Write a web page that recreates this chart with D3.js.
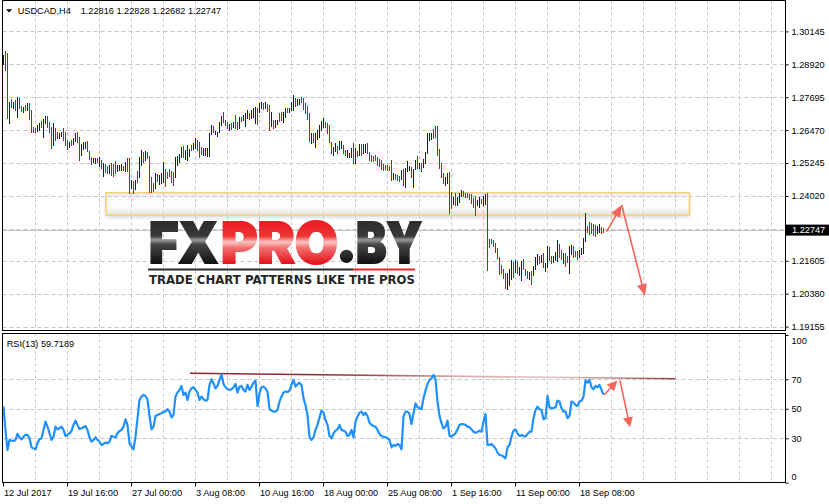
<!DOCTYPE html>
<html><head><meta charset="utf-8">
<script src="https://cdn.jsdelivr.net/npm/d3@7"></script>
<style>html,body{margin:0;padding:0;background:#fff;overflow:hidden}svg{display:block}</style>
</head><body>
<svg id="c" width="829" height="504"></svg>
<script>
// ---------------- DATA ----------------
const symbolTitle = "USDCAD,H4";
const ohlcTitle = "1.22816 1.22828 1.22682 1.22747";
const rsiTitle = "RSI(13) 59.7189";
const lastPrice = 1.22747;

const highs = [
1.2927,1.2941,1.2933,1.2750,1.2763,1.2750,1.2759,1.2769,1.2768,1.2737,
1.2734,1.2740,1.2747,1.2747,1.2722,1.2660,1.2656,1.2666,1.2672,1.2681,
1.2688,1.2701,1.2701,1.2678,1.2660,1.2672,1.2656,1.2639,1.2635,1.2639,
1.2654,1.2639,1.2610,1.2604,1.2610,1.2619,1.2635,1.2639,1.2622,1.2594,
1.2602,1.2604,1.2607,1.2569,1.2548,1.2545,1.2542,1.2545,1.2548,1.2536,
1.2526,1.2520,1.2515,1.2517,1.2524,1.2520,1.2532,1.2517,1.2517,1.2520,
1.2515,1.2527,1.2545,1.2545,1.2461,1.2458,1.2461,1.2495,1.2548,1.2573,
1.2566,1.2569,1.2566,1.2551,1.2474,1.2449,1.2486,1.2483,1.2480,1.2486,
1.2527,1.2502,1.2490,1.2502,1.2495,1.2492,1.2548,1.2551,1.2557,1.2585,
1.2588,1.2573,1.2592,1.2577,1.2592,1.2598,1.2619,1.2610,1.2604,1.2585,
1.2582,1.2579,1.2579,1.2635,1.2666,1.2663,1.2644,1.2639,1.2678,1.2701,
1.2716,1.2685,1.2678,1.2669,1.2672,1.2678,1.2703,1.2678,1.2697,1.2697,
1.2703,1.2710,1.2722,1.2710,1.2722,1.2730,1.2734,1.2730,1.2747,1.2750,
1.2747,1.2753,1.2743,1.2740,1.2716,1.2685,1.2685,1.2685,1.2710,1.2713,
1.2716,1.2728,1.2730,1.2730,1.2753,1.2778,1.2768,1.2763,1.2763,1.2770,
1.2765,1.2749,1.2737,1.2712,1.2635,1.2635,1.2637,1.2647,1.2666,1.2682,
1.2691,1.2678,1.2672,1.2666,1.2604,1.2585,1.2598,1.2588,1.2608,1.2608,
1.2592,1.2573,1.2573,1.2563,1.2579,1.2598,1.2579,1.2570,1.2595,1.2595,
1.2595,1.2595,1.2598,1.2567,1.2554,1.2551,1.2554,1.2548,1.2538,1.2536,
1.2521,1.2517,1.2517,1.2513,1.2536,1.2489,1.2484,1.2480,1.2476,1.2498,
1.2501,1.2505,1.2533,1.2513,1.2510,1.2501,1.2536,1.2551,1.2524,1.2526,
1.2538,1.2567,1.2637,1.2637,1.2635,1.2650,1.2662,1.2662,1.2576,1.2526,
1.2486,1.2473,1.2486,1.2491,1.2418,1.2399,1.2414,1.2399,1.2412,1.2424,
1.2421,1.2414,1.2412,1.2409,1.2409,1.2393,1.2402,1.2387,1.2397,1.2389,
1.2402,1.2409,1.2414,1.2240,1.2240,1.2238,1.2225,1.2207,1.2176,1.2145,
1.2129,1.2116,1.2114,1.2129,1.2163,1.2157,1.2163,1.2161,1.2136,1.2161,
1.2166,1.2129,1.2124,1.2120,1.2124,1.2141,1.2176,1.2186,1.2178,1.2182,
1.2188,1.2153,1.2216,1.2213,1.2178,1.2178,1.2194,1.2238,1.2223,1.2201,
1.2191,1.2188,1.2178,1.2216,1.2219,1.2216,1.2198,1.2198,1.2201,1.2207,
1.2244,1.2337,1.2290,1.2306,1.2302,1.2297,1.2294,1.2290,1.2297,1.2288,
1.22828];

const lows = [
1.2892,1.2871,1.2692,1.2675,1.2734,1.2730,1.2722,1.2697,1.2728,1.2718,
1.2716,1.2721,1.2722,1.2688,1.2641,1.2639,1.2639,1.2644,1.2647,1.2660,
1.2622,1.2672,1.2660,1.2641,1.2579,1.2592,1.2610,1.2619,1.2619,1.2626,
1.2610,1.2592,1.2577,1.2585,1.2592,1.2594,1.2607,1.2604,1.2536,1.2554,
1.2577,1.2579,1.2569,1.2540,1.2520,1.2527,1.2524,1.2527,1.2515,1.2507,
1.2477,1.2492,1.2486,1.2486,1.2480,1.2477,1.2486,1.2495,1.2498,1.2498,
1.2498,1.2495,1.2495,1.2412,1.2430,1.2412,1.2428,1.2455,1.2474,1.2517,
1.2529,1.2536,1.2542,1.2418,1.2416,1.2421,1.2430,1.2458,1.2445,1.2449,
1.2455,1.2440,1.2470,1.2477,1.2453,1.2443,1.2474,1.2517,1.2529,1.2548,
1.2548,1.2540,1.2536,1.2551,1.2573,1.2577,1.2579,1.2573,1.2548,1.2557,
1.2554,1.2554,1.2551,1.2551,1.2632,1.2639,1.2632,1.2626,1.2641,1.2666,
1.2676,1.2666,1.2656,1.2647,1.2651,1.2660,1.2654,1.2651,1.2656,1.2681,
1.2685,1.2663,1.2691,1.2688,1.2691,1.2697,1.2672,1.2669,1.2716,1.2730,
1.2726,1.2728,1.2718,1.2647,1.2663,1.2656,1.2660,1.2669,1.2681,1.2685,
1.2678,1.2697,1.2716,1.2713,1.2722,1.2722,1.2738,1.2740,1.2743,1.2750,
1.2727,1.2710,1.2687,1.2606,1.2600,1.2604,1.2585,1.2613,1.2622,1.2647,
1.2660,1.2660,1.2637,1.2604,1.2561,1.2554,1.2570,1.2563,1.2576,1.2579,
1.2561,1.2554,1.2548,1.2546,1.2546,1.2524,1.2524,1.2551,1.2554,1.2554,
1.2561,1.2567,1.2561,1.2536,1.2533,1.2533,1.2536,1.2517,1.2513,1.2501,
1.2498,1.2501,1.2498,1.2498,1.2461,1.2464,1.2464,1.2461,1.2459,1.2464,
1.2443,1.2436,1.2496,1.2498,1.2471,1.2436,1.2501,1.2505,1.2505,1.2496,
1.2511,1.2524,1.2561,1.2610,1.2613,1.2617,1.2620,1.2554,1.2505,1.2471,
1.2451,1.2443,1.2451,1.2337,1.2356,1.2372,1.2369,1.2369,1.2381,1.2402,
1.2402,1.2399,1.2397,1.2389,1.2374,1.2362,1.2331,1.2369,1.2359,1.2374,
1.2369,1.2372,1.2126,1.2213,1.2225,1.2216,1.2195,1.2170,1.2111,1.2114,
1.2095,1.2058,1.2054,1.2070,1.2092,1.2101,1.2120,1.2116,1.2107,1.2089,
1.2129,1.2107,1.2095,1.2092,1.2074,1.2107,1.2129,1.2148,1.2153,1.2157,
1.2136,1.2124,1.2138,1.2163,1.2153,1.2157,1.2163,1.2161,1.2174,1.2166,
1.2153,1.2141,1.2157,1.2114,1.2186,1.2174,1.2178,1.2166,1.2176,1.2186,
1.2188,1.2235,1.2269,1.2260,1.2265,1.2257,1.2253,1.2263,1.2269,1.2265,
1.22682];

// u = bullish bar, d = bearish bar, k = unchanged
const barDirections = (
"uddudududd"+"ududddduud"+"uudddudduu"+"ddduduuddu"+"uuddduudud"+
"udduddduuu"+"duddududuu"+"dudddduduu"+"uddddduuuu"+"duuuduuddd"+
"uuuuuduuuu"+"dddududdud"+"uuuduuuduu"+"dudduduudd"+"kuduuuduud"+
"dddduduuuu"+"udddduuduu"+"dduuududud"+"uudddddddd"+"dddddudddu"+
"duuuduudud"+"uuuuuddddd"+"duudduduuu"+"ddddddduud"+"uudddddddd"+
"dduuududuu"+"ddduduuudu"+"duudduuudd"+"udduuddduu"+"uuddddduud"+"d").split("");

const rsiValues = [
51.5,35,22,28.9,28.4,28.2,28.9,33,30.7,29.3,
31.1,32.3,32.3,30,23.9,23.2,22.5,26.6,29.3,30,
35.7,41.3,37.9,33.4,28.9,31.1,37.9,36.1,36.8,37.9,
35.7,31.6,32.3,33.4,35,39.1,42,39.1,36.3,36.8,
37.5,38.4,35.7,30.7,27.7,28.9,30.7,28.9,27.7,25.5,
26.2,27.1,26.6,27.7,31.6,31.1,30.7,33.4,35,35.7,
37.9,42.9,39.1,26.6,24.4,22.5,31.1,43.6,56,58.3,
59.4,58.7,56.5,45.1,36.1,37.9,45.1,45.8,46.5,47,
48.1,48.1,49.7,48.1,44.2,45.8,58.3,61,62.8,65.5,
59.4,61,56,61.7,63.9,64.6,62.8,61,56,58.3,
56.5,55.5,56,66.2,70,67.3,63.9,65.5,69.6,73.4,
66.8,64.6,63.2,62.8,63.2,64.6,66.8,61,65,65.5,
62.8,61.7,66.2,62.8,65,67.7,69.1,51.9,60.5,64.6,
65,63.7,61.7,49.7,48.8,48.1,48.1,49.2,54.9,58.3,
61,61.7,61.4,62.3,66.2,69.6,65,66.6,67.7,66.2,
57.1,52.6,45.8,30.7,28.9,30.7,35.7,39.1,44.2,48.8,
47.4,42.4,39.1,31.6,30,33.4,35.2,36.1,39.1,35.7,
35.2,34.5,31.6,32.3,35.7,30.7,41.3,44.7,47.4,48.1,
45.8,47.4,45.1,40.6,39.1,38.4,37.9,35.7,33,31.6,
31.1,30.7,30,28.9,23.9,25.5,24.8,26.2,25.5,22.5,
44.7,48.1,48.1,46.5,39.7,47,53.7,51,50.4,49.7,
57.1,62.3,66.8,69.6,70.7,72.9,70,54.9,45.1,40.2,
36.8,37.9,42,31.6,31.1,32.3,33.4,36.1,39.1,39.7,
39.5,39.1,37.9,37.5,36.1,34.5,33.8,34.3,35.2,34.5,
41.3,46.5,25.5,25.5,26.2,24.8,23.2,20.3,18.7,18.5,
17.6,16.4,23.9,25.5,31.1,35.2,36.1,33.4,31.6,32.3,
31.6,31.1,33,34.5,34.5,43.6,49.2,51.5,49.7,49.2,
42.9,43.6,58.7,51,50.4,50.4,51,55.5,54.9,50.4,
48.1,48.1,43.6,45.1,54.9,54.2,52.6,51.9,54.9,55.5,
58.3,69.1,67.7,69.6,64.6,63.2,65.5,64.6,66.2,62.8,
59.7189];

const dateLabels = ["12 Jul 2017","19 Jul 16:00","27 Jul 00:00","3 Aug 08:00","10 Aug 16:00",
  "18 Aug 00:00","25 Aug 08:00","1 Sep 16:00","11 Sep 00:00","18 Sep 08:00"];
const dateLabelBars = [0,32,64,96,128,160,192,224,256,288];
const priceLabels = [1.30145,1.28920,1.27695,1.26470,1.25245,1.24020,1.21605,1.20380,1.19155];
const priceGrid = [1.30145,1.28920,1.27695,1.26470,1.25245,1.24020,1.22795,1.21605,1.20380,1.19155];
const rsiLevels = [70,50,30];
const rsiLabels = [100,70,50,30,0];

// annotations (bar index, value)
const zoneBars = [51.5, 343.2];
const zonePrices = [1.2414, 1.2331];
const priceArrows = [[[301.85,1.2269],[309.35,1.2368]], [[309.35,1.2368],[321,1.2029]]];
const rsiArrows = [[[300.5,59.4],[307.15,69.1]], [[308.5,69.1],[313.5,37.5]]];
const rsiTrend = [[93.5,74.1],[336.15,70.4]];

// ---------------- LAYOUT ----------------
const FONT = "'Liberation Sans', Arial, sans-serif";
const FS = 9.2;
const P = {left:2.5, right:785.5, top:0.5, bottom:330.5, rTop:333.5, rBottom:482.5};
const x = d3.scaleLinear().domain([0, 391.25]).range([3, 785.5]);
const y = d3.scaleLinear().domain([1.19155, 1.30145]).range([326.6, 31.4]);
const r = d3.scaleLinear().domain([0, 100]).range([482.6, 335]);

const svg = d3.select("#c");
const defs = svg.append("defs");
function grad(id, stops, x1, y1, x2, y2) {
  const g = defs.append("linearGradient").attr("id", id).attr("gradientUnits", "userSpaceOnUse")
    .attr("x1", x1).attr("y1", y1).attr("x2", x2).attr("y2", y2);
  stops.forEach(s => g.append("stop").attr("offset", s[0]).attr("stop-color", s[1]));
}
svg.append("rect").attr("width", 829).attr("height", 504).attr("fill", "#fff");

defs.append("clipPath").attr("id", "cm").append("rect")
  .attr("x", P.left).attr("y", P.top).attr("width", P.right - P.left).attr("height", P.bottom - P.top);
defs.append("clipPath").attr("id", "cr").append("rect")
  .attr("x", P.left).attr("y", P.rTop).attr("width", P.right - P.left).attr("height", P.rBottom - P.rTop);

// zone
const zy0 = y(zonePrices[0]), zy1 = y(zonePrices[1]);
grad("zoneFill", [[0, "#ebebeb"], [0.25, "#f9f9f9"], [0.6, "#ffffff"], [1, "#e4e4e4"]], 0, zy0, 0, zy1);
const f = defs.append("filter").attr("id", "sh").attr("x", "-5%").attr("y", "-50%").attr("width", "110%").attr("height", "200%");
f.append("feDropShadow").attr("dx", 0).attr("dy", 2).attr("stdDeviation", 2).attr("flood-color", "#000").attr("flood-opacity", 0.18);

const main = svg.append("g").attr("clip-path", "url(#cm)");
main.append("rect").attr("x", x(zoneBars[0])).attr("y", zy0)
  .attr("width", x(zoneBars[1]) - x(zoneBars[0])).attr("height", zy1 - zy0)
  .attr("fill", "url(#zoneFill)").attr("filter", "url(#sh)");

// grid
const gridColor = "#c6c6c6";
const vBars = d3.range(16, 392, 16);
main.selectAll(".vg").data(vBars).join("line")
  .attr("x1", d => Math.round(x(d)) + 0.5).attr("x2", d => Math.round(x(d)) + 0.5)
  .attr("y1", P.top).attr("y2", P.bottom).attr("stroke", gridColor).attr("stroke-dasharray", "3,3");
main.selectAll(".hg").data(priceGrid).join("line")
  .attr("x1", P.left).attr("x2", P.right)
  .attr("y1", d => Math.round(y(d)) + 0.5).attr("y2", d => Math.round(y(d)) + 0.5)
  .attr("stroke", gridColor).attr("stroke-dasharray", "4,3");

// current price line
main.append("line").attr("x1", P.left).attr("x2", P.right)
  .attr("y1", Math.round(y(lastPrice)) + 0.5).attr("y2", Math.round(y(lastPrice)) + 0.5)
  .attr("stroke", "#c4c4c4").attr("stroke-width", 1);

// zone border
main.append("rect").attr("x", x(zoneBars[0])).attr("y", zy0)
  .attr("width", x(zoneBars[1]) - x(zoneBars[0])).attr("height", zy1 - zy0)
  .attr("fill", "none").attr("stroke", "#f6d27c").attr("stroke-width", 1.5);

// bars
const barColor = {u: "#0000f0", d: "#f00000", k: "#000000"};
main.selectAll(".bar").data(highs.map((h, i) => ({i, h, l: lows[i], d: barDirections[i]})))
  .join("rect")
  .attr("x", d => Math.round(x(d.i))).attr("width", 1)
  .attr("y", d => Math.round(y(d.h)))
  .attr("height", d => Math.max(1, Math.round(y(d.l)) - Math.round(y(d.h)) + 1))
  .attr("fill", d => barColor[d.d]).attr("shape-rendering", "crispEdges");

// logo
grad("gDark", [[0, "#2c2c2c"], [0.36, "#383838"], [0.45, "#9a9a9a"], [0.56, "#474747"], [1, "#121212"]], 0, 221, 0, 263);
grad("gRed", [[0, "#ec1a22"], [0.36, "#ee3535"], [0.5, "#fbc4c4"], [0.64, "#f27070"], [1, "#e4141c"]], 0, 221, 0, 263);
const logo = svg.append("g");
const LF = "Inter, Roboto, 'DejaVu Sans', sans-serif";
function logoText(tx, str, len, fill) {
  logo.append("text").attr("x", tx).attr("y", 263).text(str)
    .attr("font-family", LF).attr("font-weight", 900).attr("font-size", 57)
    .attr("textLength", len).attr("lengthAdjust", "spacingAndGlyphs")
    .attr("fill", fill).attr("stroke", fill).attr("stroke-width", 2).attr("stroke-linejoin", "miter");
}
logoText(149, "FX", 69, "url(#gDark)");
logoText(221, "PRO", 117, "url(#gRed)");
logo.append("circle").attr("cx", 346.5).attr("cy", 256.3).attr("r", 6.6).attr("fill", "url(#gDark)");
logoText(356, "BY", 66, "url(#gDark)");
logo.append("line").attr("x1", 148).attr("x2", 353).attr("y1", 269.5).attr("y2", 269.5).attr("stroke", "#2a2a2a").attr("stroke-width", 2);
logo.append("line").attr("x1", 353).attr("x2", 415).attr("y1", 269.5).attr("y2", 269.5).attr("stroke", "#e8202a").attr("stroke-width", 2);
logo.append("text").attr("x", 149).attr("y", 284).text("TRADE CHART PATTERNS LIKE THE PROS")
  .attr("font-family", "'DejaVu Sans', sans-serif").attr("font-weight", "bold").attr("font-size", 12.3)
  .attr("textLength", 266).attr("lengthAdjust", "spacingAndGlyphs").attr("fill", "#262626");

// arrows
const arrowColor = "#f5645c";
function arrow(g, s, t, len, hw) {
  const dx = t[0] - s[0], dy = t[1] - s[1], L = Math.hypot(dx, dy), ux = dx / L, uy = dy / L;
  const bx = t[0] - ux * len, by = t[1] - uy * len;
  g.append("line").attr("x1", s[0]).attr("y1", s[1]).attr("x2", bx + ux * 2).attr("y2", by + uy * 2)
    .attr("stroke", arrowColor).attr("stroke-width", 1.6);
  g.append("polygon").attr("points", [[t[0], t[1]], [bx - uy * hw, by + ux * hw], [bx + uy * hw, by - ux * hw]].map(p => p.join(",")).join(" "))
    .attr("fill", arrowColor);
}
const ag = svg.append("g").attr("clip-path", "url(#cm)");
priceArrows.forEach(a => arrow(ag, [x(a[0][0]), y(a[0][1])], [x(a[1][0]), y(a[1][1])], 12, 5));

// RSI panel
const rp = svg.append("g").attr("clip-path", "url(#cr)");
rp.selectAll(".rvg").data(vBars).join("line")
  .attr("x1", d => Math.round(x(d)) + 0.5).attr("x2", d => Math.round(x(d)) + 0.5)
  .attr("y1", P.rTop).attr("y2", P.rBottom).attr("stroke", gridColor).attr("stroke-dasharray", "3,3");
rp.selectAll(".rhg").data(rsiLevels).join("line")
  .attr("x1", P.left).attr("x2", P.right)
  .attr("y1", d => Math.round(r(d)) + 0.5).attr("y2", d => Math.round(r(d)) + 0.5)
  .attr("stroke", gridColor).attr("stroke-dasharray", "4,3");
grad("gTrend", [[0, "#8b2525"], [0.23, "#8e2d2d"], [0.4, "#a85a5a"], [0.55, "#d8aaaa"], [0.75, "#e2c2c2"], [0.88, "#c08888"], [1, "#973c3c"]],
  x(rsiTrend[0][0]), 0, x(rsiTrend[1][0]), 0);
rp.append("line").attr("x1", x(rsiTrend[0][0])).attr("y1", r(rsiTrend[0][1]))
  .attr("x2", x(rsiTrend[1][0])).attr("y2", r(rsiTrend[1][1]))
  .attr("stroke", "url(#gTrend)").attr("stroke-width", 1.6);
rp.append("path").datum(rsiValues)
  .attr("d", d3.line().x((d, i) => x(i) + 0.5).y(d => r(d)))
  .attr("fill", "none").attr("stroke", "#1e90ff").attr("stroke-width", 2.2).attr("stroke-linejoin", "round");
rsiArrows.forEach(a => arrow(rp, [x(a[0][0]), r(a[0][1])], [x(a[1][0]), r(a[1][1])], 10, 5));

// panel borders
[[P.top, P.bottom], [P.rTop, P.rBottom]].forEach(b => {
  svg.append("rect").attr("x", P.left).attr("y", b[0]).attr("width", P.right - P.left).attr("height", b[1] - b[0])
    .attr("fill", "none").attr("stroke", "#000").attr("stroke-width", 1);
});

// price axis
const pa = svg.append("g").attr("transform", `translate(${P.right},0)`)
  .call(d3.axisRight(y).tickValues(priceLabels).tickSize(3).tickPadding(3).tickFormat(d3.format(".5f")));
pa.select(".domain").remove();
pa.selectAll("text").attr("font-family", FONT).attr("font-size", FS).attr("fill", "#000");

// current price tag
const tag = svg.append("g");
tag.append("rect").attr("x", P.right + 0.5).attr("y", y(lastPrice) - 5.5).attr("width", 44).attr("height", 11).attr("fill", "#000");
tag.append("text").attr("x", P.right + 6.5).attr("y", y(lastPrice)).attr("dy", "0.34em").text(d3.format(".5f")(lastPrice))
  .attr("font-family", FONT).attr("font-size", FS).attr("fill", "#fff");

// rsi axis
const ra = svg.append("g").attr("transform", `translate(${P.right},0)`)
  .call(d3.axisRight(r).tickValues(rsiLabels).tickSize(3).tickPadding(3).tickFormat(d3.format("d")));
ra.select(".domain").remove();
ra.selectAll("text").attr("font-family", FONT).attr("font-size", FS).attr("fill", "#000")
  .attr("transform", d => d === 100 ? "translate(0,5.5)" : d === 0 ? "translate(0,-6.5)" : null);

// time axis
const ta = svg.append("g").attr("transform", `translate(0,${P.rBottom})`)
  .call(d3.axisBottom(x).tickValues(dateLabelBars).tickSize(4).tickPadding(3).tickFormat((d, i) => dateLabels[i]));
ta.select(".domain").remove();
ta.selectAll("text").attr("font-family", FONT).attr("font-size", FS).attr("fill", "#000")
  .attr("text-anchor", "start").attr("dx", 0.5);

// titles
svg.append("path").attr("d", "M6,9.3 L12.2,9.3 L9.1,12.6 Z").attr("fill", "#000");
svg.append("text").attr("x", 17.7).attr("y", 14).text(symbolTitle).attr("font-family", FONT).attr("font-size", FS).attr("fill", "#000");
svg.append("text").attr("x", 80.7).attr("y", 14).text(ohlcTitle).attr("font-family", FONT).attr("font-size", FS).attr("fill", "#000");
svg.append("text").attr("x", 6.7).attr("y", 346.5).text(rsiTitle).attr("font-family", FONT).attr("font-size", FS).attr("fill", "#000");
</script>
</body></html>
